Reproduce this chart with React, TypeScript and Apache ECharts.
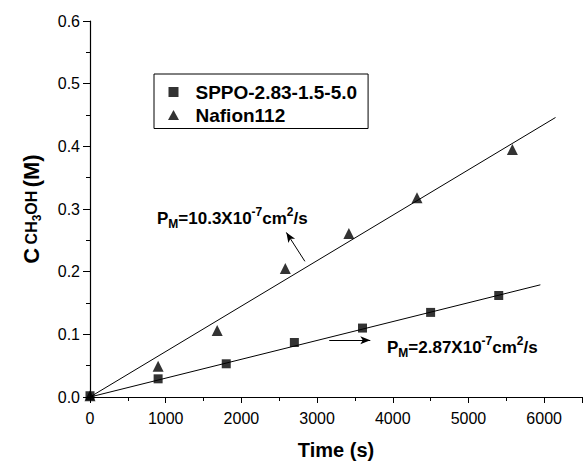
import React, { useEffect, useRef } from "react";
import * as echarts from "echarts";

// ---- data ----
const sppoTime = [0, 900, 1800, 2700, 3600, 4500, 5400];
const sppoConc = [0.002, 0.029, 0.053, 0.087, 0.11, 0.135, 0.162];
const nafionTime = [0, 900, 1680, 2580, 3420, 4320, 5580];
const nafionConc = [0.002, 0.049, 0.106, 0.205, 0.261, 0.318, 0.395];
// linear fits (end points)
const nafionFit = [[0, 0], [6150, 0.446]];
const sppoFit = [[0, 0], [5950, 0.179]];
// annotation arrows (data coordinates)
const nafionArrow = [[2839, 0.2165], [2594, 0.2626]];
const sppoArrow = [[3161, 0.0907], [3703, 0.0907]];
const xTicks = { min: 0, max: 6500, interval: 1000 };
const yTicks = { min: 0, max: 0.6, interval: 0.1 };
const seriesNames = ["SPPO-2.83-1.5-5.0", "Nafion112"];

const FONT = "'Liberation Sans', Arial, Helvetica, sans-serif";

const richAnno = {
  m: { fontSize: 17, fontWeight: "bold", fontFamily: FONT, color: "#000", lineHeight: 24 },
  sub: { fontSize: 12, fontWeight: "bold", fontFamily: FONT, color: "#000", verticalAlign: "bottom" },
  sup: { fontSize: 12, fontWeight: "bold", fontFamily: FONT, color: "#000", verticalAlign: "top" },
};

export default function App() {
  const ref = useRef<HTMLDivElement>(null);
  useEffect(() => {
    if (!ref.current) return;
    const chart = echarts.init(ref.current, null, { renderer: "svg" });
    const arrowLine = (pts: number[][]) => ({
      silent: true,
      symbol: ["none", "arrow"],
      symbolSize: [6, 10],
      label: { show: false },
      lineStyle: { color: "#000", width: 1, type: "solid" },
      data: [[{ coord: pts[0] }, { coord: pts[1] }]],
    });
    chart.setOption({
      animation: false,
      backgroundColor: "#fff",
      textStyle: { fontFamily: FONT },
      grid: { left: 90, top: 21, bottom: 67, right: -8.75 },
      legend: {
        left: 154,
        top: 74,
        orient: "vertical",
        borderColor: "#000",
        borderWidth: 1,
        padding: [8.5, 11, 4, 14],
        itemGap: 4,
        itemWidth: 34,
        itemHeight: 10,
        symbolKeepAspect: true,
        textStyle: { fontSize: 19, fontWeight: "bold", color: "#000", fontFamily: FONT },
        data: [
          { name: seriesNames[0], icon: "path://M1,1H9V9H1Z" },
          { name: seriesNames[1], icon: "path://M5,0L10.5,10H-0.5Z" },
        ],
      },
      xAxis: [
        {
          type: "value",
          min: xTicks.min,
          max: xTicks.max,
          interval: xTicks.interval,
          name: "Time (s)",
          nameLocation: "middle",
          nameGap: 43,
          nameTextStyle: { fontSize: 20, fontWeight: "bold", color: "#000", fontFamily: FONT },
          axisLine: { show: true, onZero: false, lineStyle: { color: "#000", width: 1.2 } },
          axisTick: { show: true, inside: false, length: 6, lineStyle: { color: "#000" } },
          minorTick: { show: true, splitNumber: 2, length: 4, lineStyle: { color: "#000" } },
          splitLine: { show: false },
          axisLabel: {
            fontSize: 16,
            color: "#000",
            margin: 13,
            fontFamily: FONT,
            formatter: (v: number) => (v > 6000 ? "" : String(v)),
          },
        },
        {
          type: "value",
          position: "top",
          min: xTicks.min,
          max: xTicks.max,
          axisLine: { show: true, lineStyle: { color: "#000", width: 1.2 } },
          axisTick: { show: false },
          axisLabel: { show: false },
          splitLine: { show: false },
        },
      ],
      yAxis: {
        type: "value",
        min: yTicks.min,
        max: yTicks.max,
        interval: yTicks.interval,
        name: "{b|C} {s|CH}{ss|3}{s|OH} {b|(M)}",
        nameLocation: "middle",
        nameGap: 47,
        nameRotate: 90,
        nameTextStyle: {
          color: "#000",
          rich: {
            b: { fontSize: 22, fontWeight: "bold", fontFamily: FONT, color: "#000", lineHeight: 24 },
            s: { fontSize: 16, fontWeight: "bold", fontFamily: FONT, color: "#000", lineHeight: 24 },
            ss: { fontSize: 12, fontWeight: "bold", fontFamily: FONT, color: "#000", verticalAlign: "bottom" },
          },
        },
        axisLine: { show: true, lineStyle: { color: "#000", width: 1.2 } },
        axisTick: { show: true, inside: false, length: 7, lineStyle: { color: "#000" } },
        minorTick: { show: true, splitNumber: 2, length: 4, lineStyle: { color: "#000" } },
        splitLine: { show: false },
        axisLabel: {
          fontSize: 16,
          color: "#000",
          margin: 10,
          fontFamily: FONT,
          formatter: (v: number) => v.toFixed(1),
        },
      },
      series: [
        {
          type: "line",
          name: "fitNafion",
          data: nafionFit,
          symbol: "none",
          lineStyle: { color: "#000", width: 1 },
          markLine: arrowLine(nafionArrow),
          z: 1,
        },
        {
          type: "line",
          name: "fitSPPO",
          data: sppoFit,
          symbol: "none",
          lineStyle: { color: "#000", width: 1 },
          markLine: arrowLine(sppoArrow),
          z: 1,
        },
        {
          type: "scatter",
          name: seriesNames[0],
          data: sppoTime.map((t, i) => [t, sppoConc[i]]),
          symbol: "rect",
          symbolSize: 9,
          itemStyle: { color: "#000" },
          z: 3,
        },
        {
          type: "scatter",
          name: seriesNames[1],
          data: nafionTime.map((t, i) => [t, nafionConc[i]]),
          symbol: "triangle",
          symbolSize: 11,
          itemStyle: { color: "#000" },
          z: 3,
        },
      ],
      graphic: [
        {
          type: "text",
          left: 157,
          top: 206,
          style: {
            text: "{m|P}{sub|M}{m|=10.3X10}{sup|-7}{m|cm}{sup|2}{m|/s}",
            rich: richAnno,
          },
        },
        {
          type: "text",
          left: 387,
          top: 335,
          style: {
            text: "{m|P}{sub|M}{m|=2.87X10}{sup|-7}{m|cm}{sup|2}{m|/s}",
            rich: richAnno,
          },
        },
      ],
    });
    return () => chart.dispose();
  }, []);
  return (
    <div
      ref={ref}
      style={{ position: "fixed", left: 0, top: 0, width: 585, height: 465, background: "#fff" }}
    />
  );
}
